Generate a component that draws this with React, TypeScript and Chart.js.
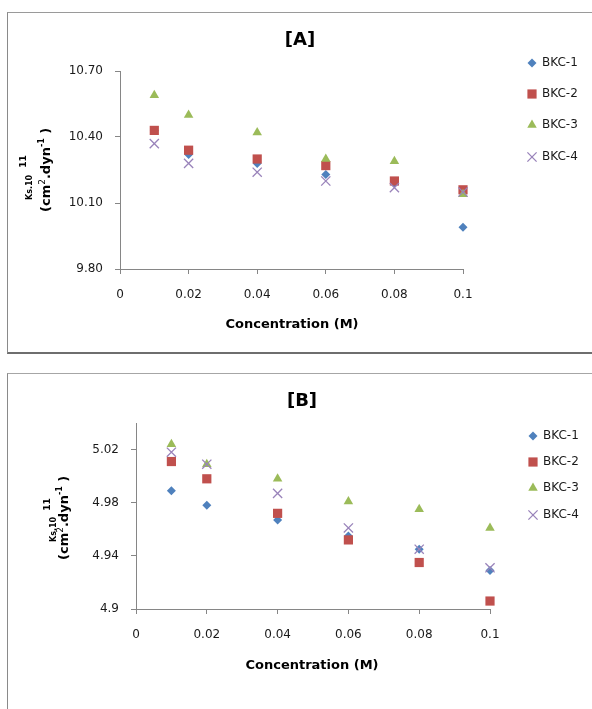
import React, { useEffect, useRef } from "react";
import { Chart, registerables } from "chart.js";

Chart.register(...registerables);

// ---------- DATA ----------
const seriesNames = ["BKC-1", "BKC-2", "BKC-3", "BKC-4"];
const concentrations = [0.01, 0.02, 0.04, 0.06, 0.08, 0.1];
const xTickValues = [0, 0.02, 0.04, 0.06, 0.08, 0.1];
const xTickLabels = ["0", "0.02", "0.04", "0.06", "0.08", "0.1"];

// Chart [A]
const aBKC1 = [10.43, 10.32, 10.28, 10.23, 10.19, 9.99];
const aBKC2 = [10.43, 10.34, 10.3, 10.27, 10.2, 10.16];
const aBKC3 = [10.59, 10.5, 10.42, 10.3, 10.29, 10.14];
const aBKC4 = [10.37, 10.28, 10.24, 10.2, 10.17, 10.15];
const aYTicks = [9.8, 10.1, 10.4, 10.7];
const aYTickLabels = ["9.80", "10.10", "10.40", "10.70"];

// Chart [B]
const bBKC1 = [4.989, 4.978, 4.967, 4.955, 4.945, 4.929];
const bBKC2 = [5.011, 4.998, 4.972, 4.952, 4.935, 4.906];
const bBKC3 = [5.024, 5.009, 4.998, 4.981, 4.975, 4.961];
const bBKC4 = [5.018, 5.009, 4.987, 4.961, 4.945, 4.931];
const bYTicks = [4.9, 4.94, 4.98, 5.02];
const bYTickLabels = ["4.9", "4.94", "4.98", "5.02"];

// ---------- STYLE ----------
const FONT = '"DejaVu Sans", sans-serif';
const AXIS = "#868686";
const TEXT = "#1a1a1a";
const markerStyles = [
  { pointStyle: "rectRot", radius: 4.5, color: "#4F81BD", bw: 0 },
  { pointStyle: "rect", radius: 6.5, color: "#C0504D", bw: 0 },
  { pointStyle: "triangle", radius: 5.5, color: "#9BBB59", bw: 0 },
  { pointStyle: "crossRot", radius: 6.5, color: "#9983BA", bw: 1.3 },
];

function drawMarker(ctx: CanvasRenderingContext2D, i: number, x: number, y: number) {
  const m = markerStyles[i];
  const r = m.radius;
  ctx.save();
  ctx.beginPath();
  ctx.fillStyle = m.color;
  ctx.strokeStyle = m.color;
  if (m.pointStyle === "rectRot") {
    ctx.moveTo(x, y - r);
    ctx.lineTo(x + r, y);
    ctx.lineTo(x, y + r);
    ctx.lineTo(x - r, y);
    ctx.closePath();
    ctx.fill();
  } else if (m.pointStyle === "rect") {
    const s = Math.SQRT1_2 * r;
    ctx.rect(x - s, y - s, 2 * s, 2 * s);
    ctx.fill();
  } else if (m.pointStyle === "triangle") {
    ctx.moveTo(x, y - r);
    ctx.lineTo(x + r * 0.866, y + r / 2);
    ctx.lineTo(x - r * 0.866, y + r / 2);
    ctx.closePath();
    ctx.fill();
  } else {
    const d = Math.SQRT1_2 * r;
    ctx.lineWidth = m.bw;
    ctx.moveTo(x - d, y - d);
    ctx.lineTo(x + d, y + d);
    ctx.moveTo(x + d, y - d);
    ctx.lineTo(x - d, y + d);
    ctx.stroke();
  }
  ctx.restore();
}

type Seg = { text: string; font: string; dy?: number; gap?: number };

function drawRotatedRich(ctx: CanvasRenderingContext2D, cx: number, yStart: number, segs: Seg[]) {
  ctx.save();
  ctx.translate(cx, yStart);
  ctx.rotate(-Math.PI / 2);
  ctx.textAlign = "left";
  ctx.textBaseline = "middle";
  ctx.fillStyle = "#000";
  let x = 0;
  for (const s of segs) {
    ctx.font = s.font;
    ctx.fillText(s.text, x, s.dy || 0);
    x += ctx.measureText(s.text).width + (s.gap || 0);
  }
  ctx.restore();
}

type PanelCfg = {
  width: number;
  height: number;
  series: number[][];
  yMin: number;
  yMax: number;
  yTicks: number[];
  yTickLabels: string[];
  area: { left: number; right: number; top: number; bottom: number };
  title: string;
  titlePos: [number, number];
  xTitlePos: [number, number];
  legendX: number;
  legendYs: number[];
  yTitle: { line2X: number; line2Start: number; line1X: number; line1Start: number; gap: number };
};

function Panel({ cfg, top }: { cfg: PanelCfg; top: number }) {
  const ref = useRef<HTMLCanvasElement | null>(null);
  useEffect(() => {
    const canvas = ref.current;
    if (!canvas) return;
    const a = cfg.area;
    const textPlugin = {
      id: "customText",
      afterDraw(chart: any) {
        const ctx: CanvasRenderingContext2D = chart.ctx;
        ctx.save();
        ctx.fillStyle = "#000";
        ctx.textAlign = "center";
        ctx.textBaseline = "middle";
        ctx.font = `bold 18px ${FONT}`;
        ctx.fillText(cfg.title, cfg.titlePos[0], cfg.titlePos[1]);
        ctx.font = `bold 13px ${FONT}`;
        ctx.fillText("Concentration (M)", cfg.xTitlePos[0], cfg.xTitlePos[1]);
        // legend
        ctx.textAlign = "left";
        ctx.font = `12px ${FONT}`;
        ctx.fillStyle = TEXT;
        seriesNames.forEach((name, i) => {
          const y = cfg.legendYs[i];
          drawMarker(ctx, i, cfg.legendX, y);
          ctx.fillStyle = TEXT;
          ctx.fillText(name, cfg.legendX + 10, y);
        });
        ctx.restore();
        const yt = cfg.yTitle;
        drawRotatedRich(ctx, yt.line1X, yt.line1Start, [
          { text: "Ks.10", font: `bold 8px ${FONT}`, gap: yt.gap },
          { text: "11", font: `bold 9px ${FONT}`, dy: -6 },
        ]);
        drawRotatedRich(ctx, yt.line2X, yt.line2Start, [
          { text: "(cm", font: `bold 13px ${FONT}` },
          { text: "2", font: `9px ${FONT}`, dy: -4 },
          { text: ".dyn", font: `bold 13px ${FONT}` },
          { text: "-1", font: `bold 8px ${FONT}`, dy: -5 },
          { text: " )", font: `bold 13px ${FONT}` },
        ]);
      },
    };
    const datasets = cfg.series.map((vals, i) => ({
      label: seriesNames[i],
      data: concentrations.map((x, j) => ({ x, y: vals[j] })),
      pointStyle: markerStyles[i].pointStyle as any,
      pointRadius: markerStyles[i].radius,
      pointHoverRadius: markerStyles[i].radius,
      backgroundColor: markerStyles[i].color,
      borderColor: markerStyles[i].color,
      pointBorderWidth: markerStyles[i].bw,
      borderWidth: markerStyles[i].bw,
      showLine: false,
      clip: false as any,
      order: 4 - i,
    }));
    const chart = new Chart(canvas, {
      type: "scatter",
      data: { datasets },
      options: {
        animation: false,
        responsive: false,
        devicePixelRatio: 1,
        layout: {
          padding: { left: 0, top: a.top, right: cfg.width - a.right, bottom: 0 },
        },
        plugins: { legend: { display: false }, tooltip: { enabled: false }, title: { display: false } },
        scales: {
          x: {
            type: "linear",
            min: 0,
            max: 0.1,
            afterBuildTicks: (s: any) => {
              s.ticks = xTickValues.map((v) => ({ value: v }));
            },
            afterFit: (s: any) => {
              s.height = cfg.height - a.bottom;
            },
            ticks: {
              callback: (_v: any, i: number) => xTickLabels[i],
              font: { family: FONT, size: 12 },
              color: TEXT,
              padding: 14,
              maxRotation: 0,
              autoSkip: false,
            },
            grid: { display: true, drawOnChartArea: false, drawTicks: true, tickLength: 5, color: AXIS },
            border: { display: true, color: AXIS, width: 1 },
          },
          y: {
            type: "linear",
            min: cfg.yMin,
            max: cfg.yMax,
            afterBuildTicks: (s: any) => {
              s.ticks = cfg.yTicks.map((v) => ({ value: v }));
            },
            afterFit: (s: any) => {
              s.width = a.left;
            },
            ticks: {
              callback: (_v: any, i: number) => cfg.yTickLabels[i],
              font: { family: FONT, size: 12 },
              color: TEXT,
              padding: 12,
              autoSkip: false,
            },
            grid: { display: true, drawOnChartArea: false, drawTicks: true, tickLength: 5, color: AXIS },
            border: { display: true, color: AXIS, width: 1 },
          },
        },
      },
      plugins: [textPlugin],
    } as any);
    return () => chart.destroy();
  }, [cfg]);
  return (
    <canvas
      ref={ref}
      width={cfg.width}
      height={cfg.height}
      style={{ position: "absolute", left: 0, top, width: cfg.width, height: cfg.height }}
    />
  );
}

const cfgA: PanelCfg = {
  width: 592,
  height: 360,
  series: [aBKC1, aBKC2, aBKC3, aBKC4],
  yMin: 9.8,
  yMax: 10.7,
  yTicks: aYTicks,
  yTickLabels: aYTickLabels,
  area: { left: 120, right: 463, top: 71, bottom: 269 },
  title: "[A]",
  titlePos: [300, 40],
  xTitlePos: [292, 325],
  legendX: 532,
  legendYs: [63, 94, 125, 157],
  yTitle: { line2X: 47, line2Start: 212, line1X: 30, line1Start: 200, gap: 7 },
};

const cfgB: PanelCfg = {
  width: 592,
  height: 349,
  series: [bBKC1, bBKC2, bBKC3, bBKC4],
  yMin: 4.9,
  yMax: 5.04,
  yTicks: bYTicks,
  yTickLabels: bYTickLabels,
  area: { left: 136, right: 490, top: 63, bottom: 249 },
  title: "[B]",
  titlePos: [302, 41],
  xTitlePos: [312, 306],
  legendX: 533,
  legendYs: [76, 102, 128, 155],
  yTitle: { line2X: 65, line2Start: 200, line1X: 54, line1Start: 182, gap: 6 },
};

export default function App() {
  return (
    <div style={{ position: "absolute", left: 0, top: 0, width: 592, height: 709, overflow: "hidden", background: "#fff" }}>
      <div
        style={{
          position: "absolute",
          left: 7,
          top: 12,
          width: 620,
          height: 342,
          boxSizing: "border-box",
          borderTop: "1px solid #9a9a9a",
          borderLeft: "1px solid #8a8a8a",
          borderBottom: "2px solid #6e6e6e",
        }}
      />
      <div
        style={{
          position: "absolute",
          left: 7,
          top: 373,
          width: 620,
          height: 400,
          boxSizing: "border-box",
          borderTop: "1px solid #a6a6a6",
          borderLeft: "1px solid #8a8a8a",
        }}
      />
      <Panel cfg={cfgA} top={0} />
      <Panel cfg={cfgB} top={360} />
    </div>
  );
}
